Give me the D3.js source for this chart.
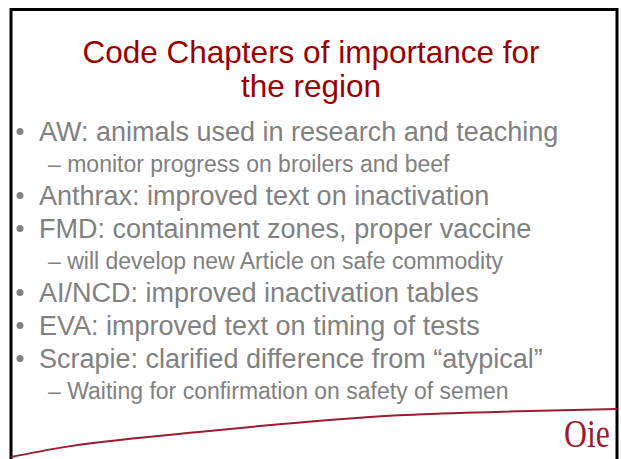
<!DOCTYPE html>
<html>
<head>
<meta charset="utf-8">
<script src="https://cdn.jsdelivr.net/npm/d3@7"></script>
<style>
  html, body { margin: 0; padding: 0; background: #fff; }
  svg { display: block; }
</style>
</head>
<body>
<svg id="slide"></svg>
<script>
// slide content
let titleLines = ['Code Chapters of importance for', 'the region']
let bulletTexts = [
    'AW: animals used in research and teaching',
    '\u2013 monitor progress on broilers and beef',
    'Anthrax: improved text on inactivation',
    'FMD: containment zones, proper vaccine',
    '\u2013 will develop new Article on safe commodity',
    'AI/NCD: improved inactivation tables',
    'EVA: improved text on timing of tests',
    'Scrapie: clarified difference from \u201catypical\u201d',
    '\u2013 Waiting for confirmation on safety of semen',
]
let bulletLevels = [1, 2, 1, 1, 2, 1, 1, 1, 2]
// decorative swoosh along the bottom (slide units 0..100)
let swooshX = [0, 8, 31, 64, 80, 100]
let swooshY = [0, 19, 52, 87, 94, 100]
let logoText = 'Oie'

let opts = {
    width: 621,
    height: 459,
    titleColor: '#990000',
    textColor: '#808080',
    accent: '#9b1b30',
}

let svg = d3.select('#slide')
    .attr('width', opts.width)
    .attr('height', opts.height)

// frame
svg.append('path')
    .attr('d', 'M11,' + (opts.height + 5) + 'V9.5H617V' + (opts.height + 5))
    .attr('fill', 'none')
    .attr('stroke', '#000')
    .attr('stroke-width', 3)

// title
svg.append('g').selectAll('text')
    .data(titleLines)
    .join('text')
    .attr('x', 311)
    .attr('y', (d, i) => 63 + i * 34)
    .attr('text-anchor', 'middle')
    .attr('font-family', 'Liberation Sans, Arial, sans-serif')
    .attr('font-size', 31.5)
    .attr('fill', opts.titleColor)
    .text(d => d)

// bullet rows: baseline position per row
let rows = bulletTexts.map((t, i) => ({ text: t, level: bulletLevels[i] }))
let y = 141
rows.forEach((r, i) => {
    if (i > 0) y += r.level === 2 ? 31 : 33
    r.y = y
})

let g = svg.append('g')
    .attr('font-family', 'Liberation Sans, Arial, sans-serif')
    .attr('fill', opts.textColor)

g.selectAll('circle')
    .data(rows.filter(r => r.level === 1))
    .join('circle')
    .attr('cx', 20)
    .attr('cy', r => r.y - 9.5)
    .attr('r', 3.5)

g.selectAll('text')
    .data(rows)
    .join('text')
    .attr('x', r => r.level === 1 ? 39 : 48)
    .attr('y', r => r.y)
    .attr('font-size', r => r.level === 1 ? 27 : 23)
    .text(r => r.text)

// swoosh
let sx = d3.scaleLinear().domain([0, 100]).range([11, 617])
let sy = d3.scaleLinear().domain([0, 100]).range([457, 409])
let line = d3.line()
    .x(d => sx(d[0]))
    .y(d => sy(d[1]))
    .curve(d3.curveMonotoneX)
svg.append('path')
    .datum(swooshX.map((x, i) => [x, swooshY[i]]))
    .attr('d', line)
    .attr('fill', 'none')
    .attr('stroke', opts.accent)
    .attr('stroke-width', 2)

// logo
svg.append('text')
    .attr('x', 564)
    .attr('y', 447)
    .attr('font-family', 'Liberation Serif, Times New Roman, serif')
    .attr('font-size', 39)
    .attr('textLength', 46)
    .attr('lengthAdjust', 'spacingAndGlyphs')
    .attr('fill', opts.accent)
    .text(logoText)
</script>
</body>
</html>
